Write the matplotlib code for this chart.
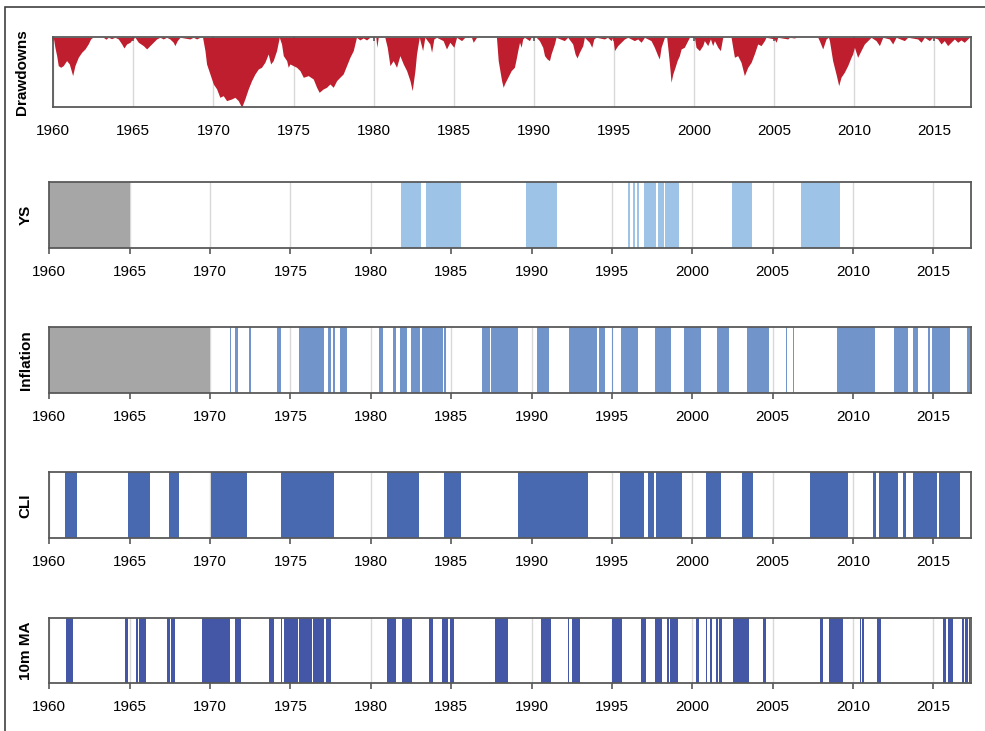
import matplotlib
matplotlib.use("Agg")
import matplotlib.pyplot as plt
from matplotlib.patches import Rectangle

# Drawdown series (year, drawdown %)
dd_years = [1960.00, 1960.10, 1960.21, 1960.31, 1960.46, 1960.62, 1960.83, 1961.00, 1961.21, 1961.35,
            1961.56, 1961.77, 1961.98, 1962.18, 1962.33, 1962.46, 1963.12, 1963.29, 1963.43, 1963.64,
            1963.85, 1964.06, 1964.27, 1964.41, 1964.58, 1964.79, 1964.95, 1965.10, 1965.31, 1965.62,
            1965.83, 1966.03, 1966.24, 1966.45, 1966.66, 1966.87, 1967.07, 1967.28, 1967.49, 1967.59,
            1967.74, 1967.91, 1968.53, 1968.74, 1968.95, 1969.16, 1969.32, 1969.47, 1969.57, 1969.78,
            1969.99, 1970.20, 1970.40, 1970.61, 1970.82, 1971.13, 1971.34, 1971.55, 1971.76, 1971.96,
            1972.17, 1972.38, 1972.59, 1972.80, 1973.00, 1973.21, 1973.42, 1973.57, 1973.73, 1973.94,
            1974.11, 1974.25, 1974.36, 1974.57, 1974.67, 1974.77, 1974.98, 1975.19, 1975.40, 1975.61,
            1975.92, 1976.23, 1976.44, 1976.60, 1976.85, 1977.06, 1977.27, 1977.48, 1977.69, 1977.89,
            1978.10, 1978.31, 1978.52, 1978.73, 1978.83, 1978.93, 1979.14, 1979.35, 1979.56, 1979.77,
            1980.14, 1980.20, 1980.29, 1980.70, 1980.85, 1981.02, 1981.22, 1981.43, 1981.64, 1981.85,
            1982.06, 1982.27, 1982.41, 1982.58, 1982.68, 1982.85, 1983.06, 1983.20, 1983.51, 1983.62,
            1983.76, 1983.93, 1984.34, 1984.55, 1984.76, 1985.01, 1985.18, 1985.49, 1985.70, 1986.11,
            1986.22, 1986.43, 1987.67, 1987.78, 1987.99, 1988.09, 1988.17, 1988.38, 1988.59, 1988.79,
            1988.90, 1989.00, 1989.11, 1989.21, 1989.31, 1989.42, 1989.73, 1989.83, 1990.15, 1990.35,
            1990.56, 1990.67, 1990.83, 1990.98, 1991.08, 1991.29, 1991.39, 1991.91, 1992.12, 1992.43,
            1992.58, 1992.70, 1992.85, 1993.06, 1993.16, 1993.47, 1993.62, 1993.75, 1993.89, 1994.41,
            1994.60, 1994.83, 1994.93, 1995.04, 1995.24, 1995.45, 1995.66, 1995.87, 1996.28, 1996.49,
            1996.70, 1996.91, 1997.32, 1997.53, 1997.74, 1997.84, 1997.95, 1998.16, 1998.30, 1998.41,
            1998.51, 1998.57, 1998.68, 1998.82, 1998.95, 1999.09, 1999.20, 1999.40, 1999.61, 1999.72,
            2000.03, 2000.13, 2000.34, 2000.55, 2000.65, 2000.86, 2001.03, 2001.17, 2001.28, 2001.49,
            2001.65, 2001.80, 2002.32, 2002.42, 2002.53, 2002.73, 2002.94, 2003.15, 2003.36, 2003.57,
            2003.77, 2003.98, 2004.19, 2004.40, 2004.50, 2005.02, 2005.13, 2005.23, 2005.86, 2005.96,
            2006.27, 2006.40, 2007.73, 2007.83, 2008.04, 2008.25, 2008.40, 2008.46, 2008.66, 2008.87,
            2009.04, 2009.18, 2009.39, 2009.60, 2009.81, 2009.91, 2010.02, 2010.22, 2010.43, 2010.64,
            2010.85, 2011.06, 2011.37, 2011.58, 2011.79, 2012.20, 2012.41, 2012.62, 2013.14, 2013.35,
            2013.97, 2014.18, 2014.39, 2014.70, 2014.91, 2015.22, 2015.43, 2015.63, 2015.84, 2016.05,
            2016.26, 2016.47, 2016.67, 2016.88, 2017.09, 2017.20, 2017.30]
dd_values = [0.0, -7.2, -13.2, -20.4, -21.6, -20.4, -16.8, -19.2, -27.6, -20.4,
             -14.4, -10.8, -8.4, -4.8, -1.2, 0.0, 0.0, -1.4, 0.0, -1.0,
             0.0, -1.2, -4.8, -7.7, -4.8, -3.6, -1.2, 0.0, -3.6, -6.0,
             -8.4, -6.0, -3.6, -1.2, 0.0, -1.2, 0.0, -1.2, -3.6, -6.0,
             -2.4, 0.0, -1.2, 0.0, -1.2, 0.0, 0.0, -9.6, -19.2, -26.4,
             -33.6, -37.2, -43.2, -42.0, -45.6, -44.4, -43.2, -45.6, -50.4, -44.4,
             -37.2, -31.2, -26.4, -22.8, -21.6, -18.0, -12.0, -19.2, -16.8, -9.6,
             0.0, -4.8, -13.2, -16.8, -21.6, -19.2, -20.4, -21.6, -24.0, -28.8,
             -27.6, -30.0, -36.0, -39.6, -37.2, -36.0, -33.6, -36.0, -31.2, -28.8,
             -26.4, -20.4, -14.4, -9.6, -4.8, 0.0, -1.9, -0.5, -1.9, 0.0,
             0.0, -7.2, 0.0, 0.0, -7.2, -20.4, -16.8, -21.6, -13.2, -19.2,
             -24.0, -31.2, -38.4, -24.0, -12.0, 0.0, -9.6, 0.0, -4.8, -10.8,
             -1.2, 0.0, -2.4, -8.4, -3.6, -7.2, 0.0, -2.4, 0.0, 0.0,
             -3.6, 0.0, 0.0, -16.8, -31.2, -36.0, -33.6, -28.8, -24.0, -21.6,
             -15.6, -9.6, -3.6, -7.2, -1.2, 0.0, -2.4, 0.0, 0.0, -2.4,
             -7.2, -13.2, -15.6, -16.8, -12.0, -4.8, 0.0, -2.4, 0.0, -4.8,
             -12.0, -14.9, -10.8, -6.0, 0.0, -3.6, -7.2, -1.2, 0.0, -1.2,
             0.0, -2.4, 0.0, -9.6, -6.0, -3.6, -1.2, 0.0, -2.4, -1.2,
             -3.6, 0.0, -2.4, -7.2, -13.2, -15.6, -7.2, 0.0, 0.0, -12.0,
             -24.0, -32.4, -26.4, -21.6, -16.8, -13.2, -8.4, -7.2, -2.4, 0.0,
             0.0, -7.2, -9.6, -6.0, -2.4, -6.0, -1.2, -6.0, -2.4, -7.2,
             -9.6, 0.0, 0.0, -7.2, -14.4, -13.2, -18.0, -27.6, -21.6, -18.0,
             -12.0, -4.8, -6.0, -2.4, 0.0, -1.2, -3.6, 0.0, -1.2, 0.0,
             -0.5, 0.0, 0.0, -2.4, -8.4, -1.2, 0.0, -2.4, -16.8, -26.4,
             -34.8, -28.8, -25.2, -20.4, -14.4, -12.0, -7.2, -14.4, -9.6, -4.8,
             -2.4, 0.0, -2.4, -6.0, 0.0, -1.2, -4.8, 0.0, -2.4, 0.0,
             -1.2, -3.6, 0.0, -2.4, 0.0, -1.2, -4.8, -2.4, -6.0, -3.6,
             -1.2, -3.6, -1.9, -3.6, -1.2, 0.0, 0.0]

# Regime periods (start, end in decimal years)
ys_nodata = [(1960.0, 1965.0)]
ys_start = [1981.91, 1983.42, 1989.67, 1996.00, 1996.31, 1996.56, 1997.01, 1997.84, 1998.32, 2002.49, 2006.76]
ys_end = [1983.11, 1985.60, 1991.60, 1996.10, 1996.43, 1996.68, 1997.76, 1998.22, 1999.19, 2003.69, 2009.19]

infl_nodata = [(1960.0, 1970.0)]
infl_start = [1971.24, 1971.56, 1972.41, 1974.15, 1975.56, 1977.32, 1977.63, 1978.07, 1980.52, 1981.41,
              1981.83, 1982.51, 1983.17, 1984.54, 1986.91, 1987.49, 1990.33, 1990.93, 1992.32, 1994.17,
              1995.00, 1995.58, 1997.68, 1999.50, 2001.51, 2003.42, 2005.83, 2006.24, 2009.02, 2012.53,
              2013.73, 2014.69, 2014.90, 2017.12]
infl_end = [1971.33, 1971.72, 1972.57, 1974.42, 1977.10, 1977.53, 1977.76, 1978.53, 1980.79, 1981.54,
            1982.28, 1983.03, 1984.48, 1984.69, 1987.43, 1989.15, 1990.87, 1991.10, 1994.07, 1994.59,
            1995.10, 1996.60, 1998.69, 2000.54, 2002.28, 2004.79, 2005.91, 2006.35, 2011.37, 2013.44,
            2014.05, 2014.77, 2016.04, 2017.30]

cli_start = [1960.95, 1964.90, 1967.47, 1970.06, 1974.40, 1980.98, 1984.56, 1989.15, 1995.50, 1997.24,
             1997.74, 2000.85, 2003.07, 2007.34, 2011.27, 2011.62, 2013.11, 2013.73, 2015.35]
cli_end = [1961.74, 1966.27, 1968.07, 1972.32, 1977.68, 1983.01, 1985.60, 1993.53, 1997.01, 1997.59,
           1999.36, 2001.78, 2003.78, 2009.69, 2011.43, 2012.78, 2013.28, 2015.25, 2016.68]

ma_start = [1961.04, 1964.71, 1965.39, 1965.58, 1967.30, 1967.57, 1969.48, 1971.58, 1973.65, 1974.42,
            1974.61, 1975.56, 1976.39, 1977.20, 1980.98, 1981.97, 1983.65, 1984.46, 1984.90, 1987.74,
            1990.58, 1992.24, 1992.49, 1995.00, 1996.83, 1997.66, 1998.42, 1998.59, 2000.25, 2000.83,
            2001.12, 2001.49, 2001.66, 2002.51, 2004.42, 2007.93, 2008.51, 2010.41, 2010.56, 2011.49,
            2015.58, 2015.91, 2016.78, 2016.99, 2017.20]
ma_end = [1961.49, 1964.92, 1965.54, 1966.00, 1967.51, 1967.82, 1971.24, 1971.91, 1973.98, 1974.50,
          1975.46, 1976.33, 1977.10, 1977.51, 1981.58, 1982.59, 1983.90, 1984.83, 1985.19, 1988.51,
          1991.20, 1992.32, 1993.01, 1995.60, 1997.10, 1998.09, 1998.53, 1999.11, 2000.41, 2000.91,
          2001.24, 2001.58, 2001.87, 2003.53, 2004.59, 2008.11, 2009.38, 2010.50, 2010.71, 2011.76,
          2015.77, 2016.20, 2016.93, 2017.14, 2017.30]

year_ticks = list(range(1960, 2020, 5))

plt.rcParams['font.family'] = ['Liberation Sans', 'DejaVu Sans']

fig = plt.figure(figsize=(9.85, 7.31), dpi=100)

spine_col = '#595959'
grid_col = '#D9D9D9'


def style_axis(ax, label, xmax, label_x):
    ax.set_xlim(1960, xmax)
    ax.set_xticks(year_ticks)
    ax.set_yticks([])
    ax.grid(axis='x', color=grid_col, linewidth=1.0)
    ax.set_axisbelow(True)
    for s in ax.spines.values():
        s.set_color(spine_col)
        s.set_linewidth(1.3)
    ax.tick_params(axis='x', labelsize=11, colors='#000000', color=spine_col, length=4, width=1.2, pad=8)
    ax.set_ylabel(label, fontsize=11, fontweight='bold')
    ax.yaxis.set_label_coords(label_x, 0.5)


# Drawdowns
ax1 = fig.add_axes([0.0541, 0.8532, 0.9317, 0.0958])
ax1.fill_between(dd_years, dd_values, 0, color='#BE1E2D', linewidth=0, zorder=2)
ax1.set_ylim(-50.4, 0)
style_axis(ax1, 'Drawdowns', 2017.3, -0.027)
ax1.tick_params(axis='x', length=0, pad=12)
ax1.tick_params(axis='x', which='major', top=True, direction='in', length=3)
ax1.tick_params(axis='x', bottom=False, labelbottom=True)

# YS
ax2 = fig.add_axes([0.0501, 0.6603, 0.9358, 0.0903])
for a, b in ys_nodata:
    ax2.axvspan(a, b, color='#A6A6A6', linewidth=0, zorder=2)
for a, b in zip(ys_start, ys_end):
    ax2.axvspan(a, b, color='#9DC3E6', linewidth=0, zorder=2)
style_axis(ax2, 'YS', 2017.35, -0.018)

# Inflation
ax3 = fig.add_axes([0.0501, 0.4620, 0.9358, 0.0903])
for a, b in infl_nodata:
    ax3.axvspan(a, b, color='#A6A6A6', linewidth=0, zorder=2)
for a, b in zip(infl_start, infl_end):
    ax3.axvspan(a, b, color='#7194CB', linewidth=0, zorder=2)
style_axis(ax3, 'Inflation', 2017.35, -0.018)

# CLI
ax4 = fig.add_axes([0.0501, 0.2636, 0.9358, 0.0903])
for a, b in zip(cli_start, cli_end):
    ax4.axvspan(a, b, color='#4868B0', linewidth=0, zorder=2)
style_axis(ax4, 'CLI', 2017.35, -0.018)

# 10m MA
ax5 = fig.add_axes([0.0501, 0.0653, 0.9358, 0.0897])
for a, b in zip(ma_start, ma_end):
    ax5.axvspan(a, b, color='#4357A6', linewidth=0, zorder=2)
style_axis(ax5, '10m MA', 2017.35, -0.018)

# outer frame
fig.add_artist(Rectangle((5 / 985, -0.05), 1.2, 1.05 + (731 - 7) / 731 - 1.0 + 0.0,
                         transform=fig.transFigure, fill=False, edgecolor='#404040', linewidth=1.2))

fig.savefig('out.png', dpi=100)
